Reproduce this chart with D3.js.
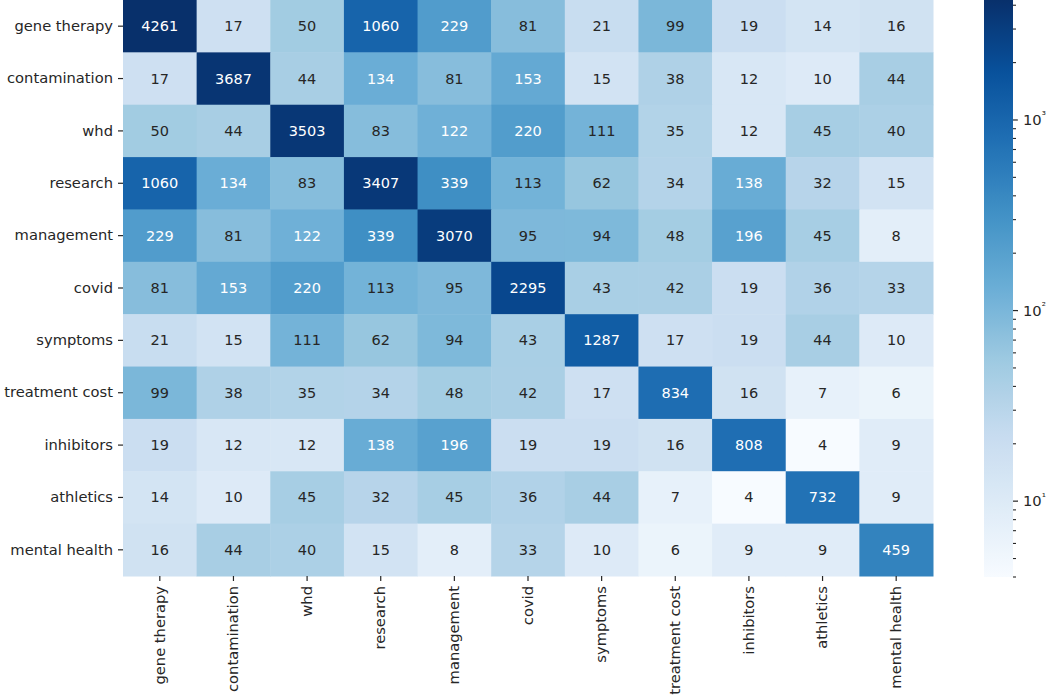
<!DOCTYPE html>
<html><head><meta charset="utf-8">
<script src="https://cdn.jsdelivr.net/npm/d3@7"></script>
<style>body{margin:0;background:#fff;} svg{display:block;font-family:"DejaVu Sans",sans-serif;}</style>
</head><body>
<svg id="c" width="1050" height="699"></svg>
<script>
const categories = ["gene therapy","contamination","whd","research","management","covid","symptoms","treatment cost","inhibitors","athletics","mental health"];
const values = [
 [4261,17,50,1060,229,81,21,99,19,14,16],
 [17,3687,44,134,81,153,15,38,12,10,44],
 [50,44,3503,83,122,220,111,35,12,45,40],
 [1060,134,83,3407,339,113,62,34,138,32,15],
 [229,81,122,339,3070,95,94,48,196,45,8],
 [81,153,220,113,95,2295,43,42,19,36,33],
 [21,15,111,62,94,43,1287,17,19,44,10],
 [99,38,35,34,48,42,17,834,16,7,6],
 [19,12,12,138,196,19,19,16,808,4,9],
 [14,10,45,32,45,36,44,7,4,732,9],
 [16,44,40,15,8,33,10,6,9,9,459]
];
const colorbarMajorTicks = [10,100,1000];
const colorbarTickLabels = ["10¹","10²","10³"];
const blues = ["#f7fbff","#deebf7","#c6dbef","#9ecae1","#6baed6","#4292c6","#2171b5","#08519c","#08306b"];

const svg = d3.select("#c");
const flat = values.flat();
const vmin = d3.min(flat), vmax = d3.max(flat);
const x = d3.scaleBand().domain(categories).range([123,933]);
const y = d3.scaleBand().domain(categories).range([0,576]);
const norm = d3.scaleLog().domain([vmin,vmax]).range([0,1]).clamp(true);
const cmap = d3.scaleLinear().domain(d3.range(9).map(i=>i/8)).range(blues).interpolate(d3.interpolateRgb);
const color = v => cmap(norm(v));

function lum(c){
  const r = d3.rgb(c);
  const f = v => { v/=255; return v<=0.03928 ? v/12.92 : Math.pow((v+0.055)/1.055,2.4); };
  return 0.2126*f(r.r)+0.7152*f(r.g)+0.0722*f(r.b);
}

const cells = [];
values.forEach((row,i)=>row.forEach((v,j)=>cells.push({r:categories[i],c:categories[j],v})));
svg.append("g").selectAll("rect").data(cells).join("rect")
  .attr("x",d=>x(d.c)).attr("y",d=>y(d.r))
  .attr("width",x.bandwidth()+0.5).attr("height",y.bandwidth()+0.5)
  .attr("fill",d=>color(d.v));
svg.append("g").selectAll("text").data(cells).join("text")
  .attr("x",d=>x(d.c)+x.bandwidth()/2).attr("y",d=>y(d.r)+y.bandwidth()/2)
  .attr("text-anchor","middle").attr("dominant-baseline","central")
  .attr("font-size","14.5px")
  .attr("fill",d=>lum(color(d.v))>0.408?"#262626":"#ffffff")
  .text(d=>d.v);

// y axis
const ya = svg.append("g").attr("transform","translate(123,0)")
  .call(d3.axisLeft(y).tickSize(5).tickPadding(5));
ya.select(".domain").remove();
ya.selectAll(".tick line").attr("stroke","#262626").attr("stroke-width",1.2);
ya.selectAll(".tick text").attr("font-size","14.7px").attr("fill","#262626").attr("font-family","DejaVu Sans");

// x axis
const xa = svg.append("g").attr("transform","translate(0,576)")
  .call(d3.axisBottom(x).tickSize(5).tickPadding(5));
xa.select(".domain").remove();
xa.selectAll(".tick line").attr("stroke","#262626").attr("stroke-width",1.2);
xa.selectAll(".tick text").attr("font-size","14.7px").attr("fill","#262626").attr("font-family","DejaVu Sans")
  .attr("transform","rotate(-90)").attr("text-anchor","end").attr("dy","0.32em").attr("x",-10).attr("y",0);

// colorbar
const cbX = 984, cbW = 29;
const cy = d3.scaleLog().domain([vmin,vmax]).range([577,0]);
const defs = svg.append("defs");
const grad = defs.append("linearGradient").attr("id","g").attr("x1",0).attr("x2",0).attr("y1",1).attr("y2",0);
d3.range(0,1.0001,0.02).forEach(t=>grad.append("stop").attr("offset",t).attr("stop-color",cmap(t)));
svg.append("rect").attr("x",cbX).attr("y",0).attr("width",cbW).attr("height",577).attr("fill","url(#g)");

const minor = [];
for (let e=0;e<4;e++) for (let m=2;m<10;m++){ const v=m*Math.pow(10,e); if(v>=vmin && v<=vmax) minor.push(v); }
svg.append("g").selectAll("line").data(minor).join("line")
  .attr("x1",cbX+cbW).attr("x2",cbX+cbW+3).attr("y1",d=>cy(d)).attr("y2",d=>cy(d))
  .attr("stroke","#262626").attr("stroke-width",1.1);
const maj = svg.append("g");
maj.selectAll("line").data(colorbarMajorTicks).join("line")
  .attr("x1",cbX+cbW).attr("x2",cbX+cbW+5).attr("y1",d=>cy(d)).attr("y2",d=>cy(d))
  .attr("stroke","#262626").attr("stroke-width",1.2);
const lbl = maj.selectAll("text").data(colorbarMajorTicks).join("text")
  .attr("x",cbX+cbW+10).attr("y",d=>cy(d)).attr("dy","0.36em")
  .attr("font-size","14.7px").attr("fill","#262626");
lbl.append("tspan").text("10");
lbl.append("tspan").attr("font-size","10.5px").attr("dy","-0.55em").text((d,i)=>colorbarTickLabels[i].slice(2));
</script>
</body></html>
